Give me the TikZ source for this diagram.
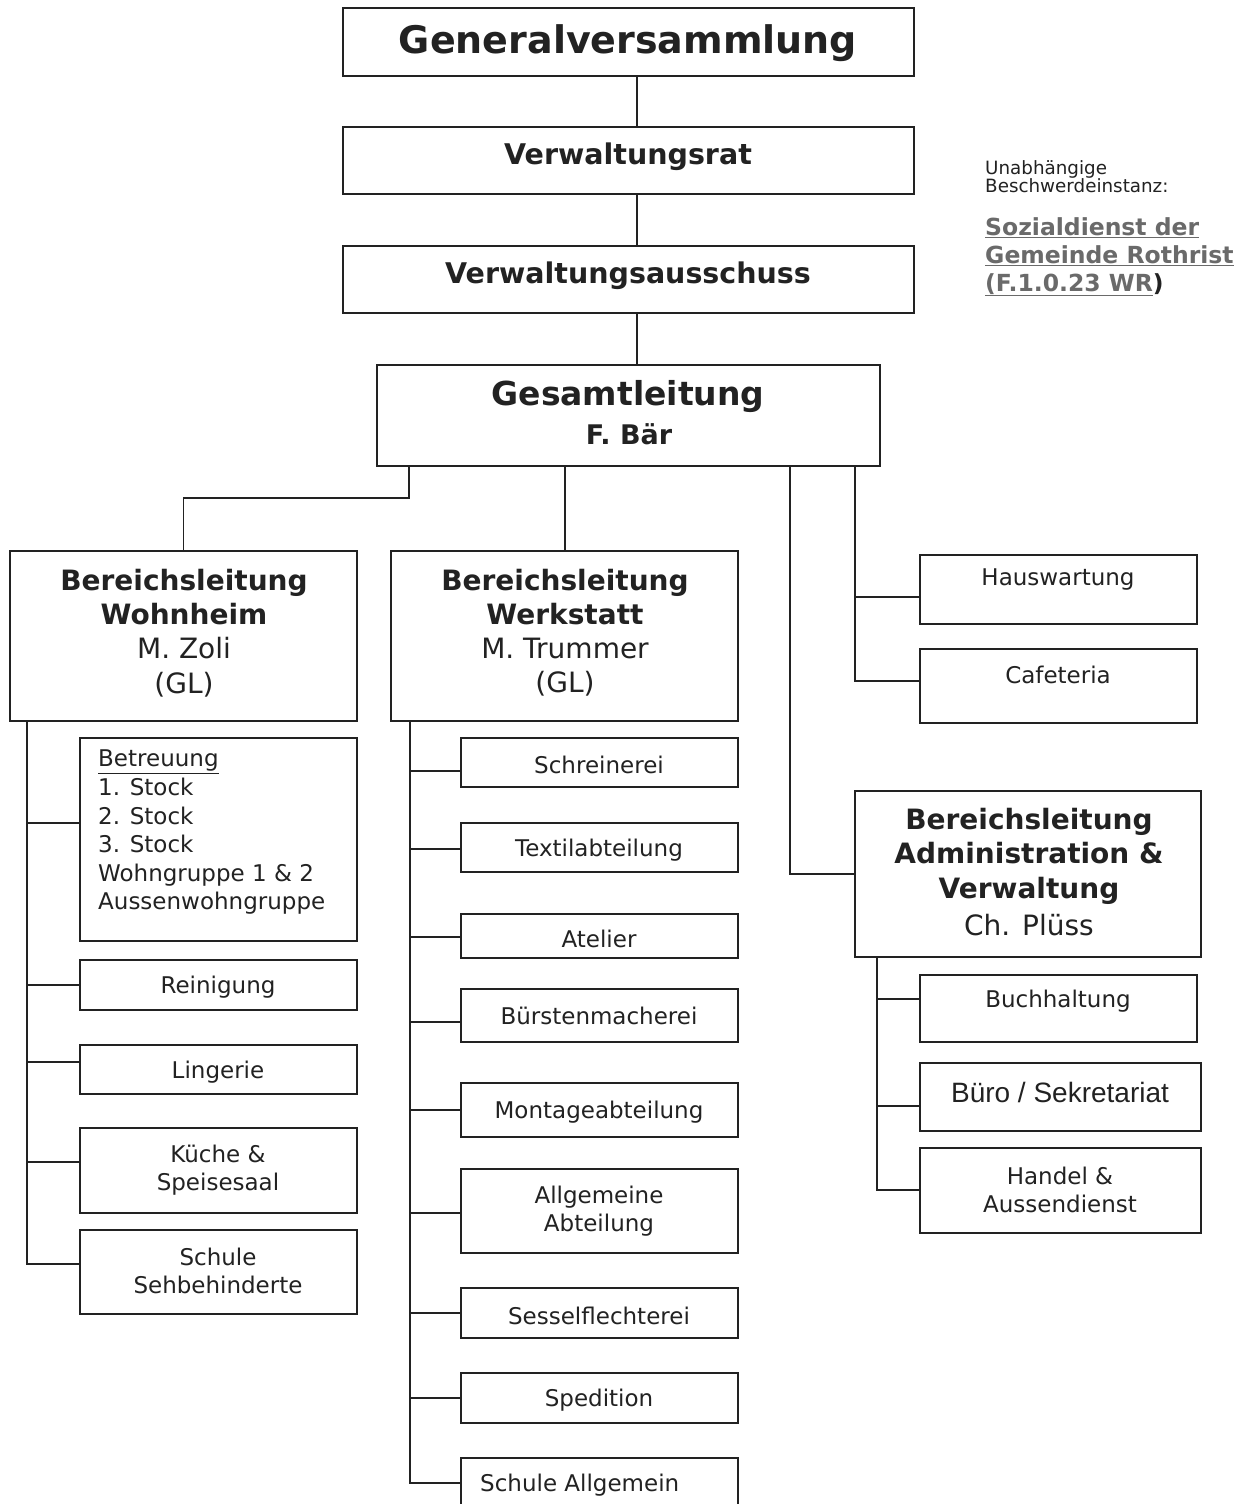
\documentclass[tikz,border=0pt]{standalone}
\usepackage{fontspec}
\setmainfont{DejaVu Sans}
\newfontfamily\arialf{Liberation Sans}
\usetikzlibrary{fit}
\definecolor{ink}{HTML}{222222}
\definecolor{lnk}{HTML}{6A6A6A}
\begin{document}
\begin{tikzpicture}[x=1pt,y=-1pt,
  box/.style={draw=ink, line width=1.4pt, inner sep=0pt},
  bigbox/.style={draw=ink, line width=2.8pt, inner sep=0pt},
  conn/.style={draw=ink, line width=1.4pt},
  txt/.style={text=ink, inner sep=0pt, align=center},
  sm/.style={font=\fontsize{23}{28.6}\selectfont},
  blb/.style={font=\bfseries\fontsize{28}{34.5}\selectfont},
  blr/.style={font=\fontsize{28}{34.5}\selectfont},
  ]
\useasboundingbox[fill=white] (0,0) rectangle (1243,1504);

% top chain
\node[box, fit={(343,8) (914,76)}] (gv) {};
\node[box, fit={(343,127) (914,194)}] (vr) {};
\node[box, fit={(343,246) (914,313)}] (va) {};
\node[box, fit={(377,365) (880,466)}] (gl) {};
\node[txt, font=\bfseries\fontsize{38}{40}\selectfont] (gvt) at (628,43) {Generalversammlung};
\node[txt, font=\bfseries\fontsize{28.5}{30}\selectfont] (vrt) at (628,157) {Verwaltungsrat};
\node[txt, font=\bfseries\fontsize{28.5}{30}\selectfont] (vat) at (628,276) {Verwaltungsausschuss};
\node[txt, font=\bfseries\fontsize{33}{35}\selectfont] (glt) at (628,397) {Gesamtleitung};
\node[txt, font=\bfseries\fontsize{27}{30}\selectfont] (glt2) at (629,434) {F. Bär};
\draw[conn] (637,0 |- gv.south) -- (637,0 |- vr.north);
\draw[conn] (637,0 |- vr.south) -- (637,0 |- va.north);
\draw[conn] (637,0 |- va.south) -- (637,0 |- gl.north);

% right note
\node[txt, anchor=north west, align=left, text=ink, font=\fontsize{18.3}{18.5}\selectfont] (note1) at (985,160) {Unabhängige\\Beschwerdeinstanz:};
\node[txt, anchor=north west, align=left, font=\bfseries\fontsize{23.5}{28}\selectfont] (note2) at (985,217)
  {\textcolor{lnk}{\underline{Sozialdienst der}}\\
   \textcolor{lnk}{\underline{Gemeinde Rothrist}}\\
   \textcolor{lnk}{\underline{(F.1.0.23 WR}}\textcolor{ink}{)}};

% Bereichsleitungen
\node[bigbox, fit={(10,551) (357,721)}] (wh) {};
\node[bigbox, fit={(391,551) (738,721)}] (ws) {};
\node[bigbox, fit={(855,791) (1201,957)}] (ad) {};
\node[txt, blb] (wht1) at (184,597) {Bereichsleitung\\Wohnheim};
\node[txt, blr] (wht2) at (184,667) {M. Zoli\\(GL)};
\node[txt, blb] (wst1) at (565,597) {Bereichsleitung\\Werkstatt};
\node[txt, blr] (wst2) at (565,667) {M. Trummer\\(GL)};
\node[txt, blb] (adt1) at (1029,856) {Bereichsleitung\\Administration \&\\Verwaltung};
\node[txt, blr] (adt2) at (1029,925) {Ch. Plüss};

\draw[conn] (409,0 |- gl.south) -- (409,498) -| (wh.north);
\draw[conn] (565,0 |- gl.south) -- (565,0 |- ws.north);
\draw[conn] (790,0 |- gl.south) |- (ad.west);

% Hauswartung / Cafeteria
\node[box, fit={(920,555) (1197,624)}] (hw) {};
\node[box, fit={(920,649) (1197,723)}] (cf) {};
\node[txt, sm] (hwt) at (1058,580) {Hauswartung};
\node[txt, sm] (cft) at (1058,675) {Cafeteria};
\draw[conn] (855,0 |- gl.south) |- (cf.west |- 0,681);
\draw[conn] (855,597) -- (hw.west |- 0,597);

% Wohnheim children
\node[box, fit={(80,738) (357,941)}] (be) {};
\node[box, fit={(80,960) (357,1010)}] (re) {};
\node[box, fit={(80,1045) (357,1094)}] (li) {};
\node[box, fit={(80,1128) (357,1213)}] (ku) {};
\node[box, fit={(80,1230) (357,1314)}] (ss) {};
\node[txt, sm, anchor=north west, align=left] (bet) at (98,750)
  {\underline{Betreuung}\\1. Stock\\2. Stock\\3. Stock\\Wohngruppe 1 \& 2\\Aussenwohngruppe};
\node[txt, sm] (ret) at (218,987) {Reinigung};
\node[txt, sm] (lit) at (218,1072) {Lingerie};
\node[txt, sm] (kut) at (218,1170) {Küche \&\\Speisesaal};
\node[txt, sm] (sst) at (218,1271) {Schule\\Sehbehinderte};
\draw[conn] (27,0 |- wh.south) |- (ss.west |- 0,1264);
\foreach \n/\y in {be/823, re/985, li/1062, ku/1162}
  \draw[conn] (27,\y) -- (\n.west |- 0,\y);

% Werkstatt children
\node[box, fit={(461,738) (738,787)}] (sr) {};
\node[box, fit={(461,823) (738,872)}] (tx) {};
\node[box, fit={(461,914) (738,958)}] (at) {};
\node[box, fit={(461,989) (738,1042)}] (bu) {};
\node[box, fit={(461,1083) (738,1137)}] (mo) {};
\node[box, fit={(461,1169) (738,1253)}] (al) {};
\node[box, fit={(461,1288) (738,1338)}] (se) {};
\node[box, fit={(461,1373) (738,1423)}] (sp) {};
\node[box, fit={(461,1458) (738,1530)}] (sa) {};
\node[txt, sm] (srt) at (599,765) {Schreinerei};
\node[txt, sm] (txt1) at (599,850) {Textilabteilung};
\node[txt, sm] (att) at (599,939) {Atelier};
\node[txt, sm] (but) at (599,1016) {Bürstenmacherei};
\node[txt, sm] (mot) at (599,1112) {Montageabteilung};
\node[txt, sm] (alt) at (599,1211) {Allgemeine\\Abteilung};
\node[txt, sm] (set) at (599,1316) {Sesselflechterei};
\node[txt, sm] (spt) at (599,1400) {Spedition};
\node[txt, sm, anchor=west] (sat) at (480,1485) {Schule Allgemein};
\draw[conn] (410,0 |- ws.south) |- (sa.west |- 0,1483);
\foreach \n/\y in {sr/771, tx/849, at/937, bu/1022, mo/1110, al/1213, se/1313, sp/1398}
  \draw[conn] (410,\y) -- (\n.west |- 0,\y);

% Administration children
\node[box, fit={(920,975) (1197,1042)}] (bh) {};
\node[box, fit={(920,1063) (1201,1131)}] (bs) {};
\node[box, fit={(920,1148) (1201,1233)}] (ha) {};
\node[txt, sm] (bht) at (1058,1001) {Buchhaltung};
\node[txt, font=\arialf\fontsize{28}{30}\selectfont] (bst) at (1060,1092) {Büro / Sekretariat};
\node[txt, sm] (hat) at (1060,1190) {Handel \&\\Aussendienst};
\draw[conn] (877,0 |- ad.south) |- (ha.west |- 0,1190);
\foreach \n/\y in {bh/999, bs/1106}
  \draw[conn] (877,\y) -- (\n.west |- 0,\y);
\end{tikzpicture}
\end{document}
